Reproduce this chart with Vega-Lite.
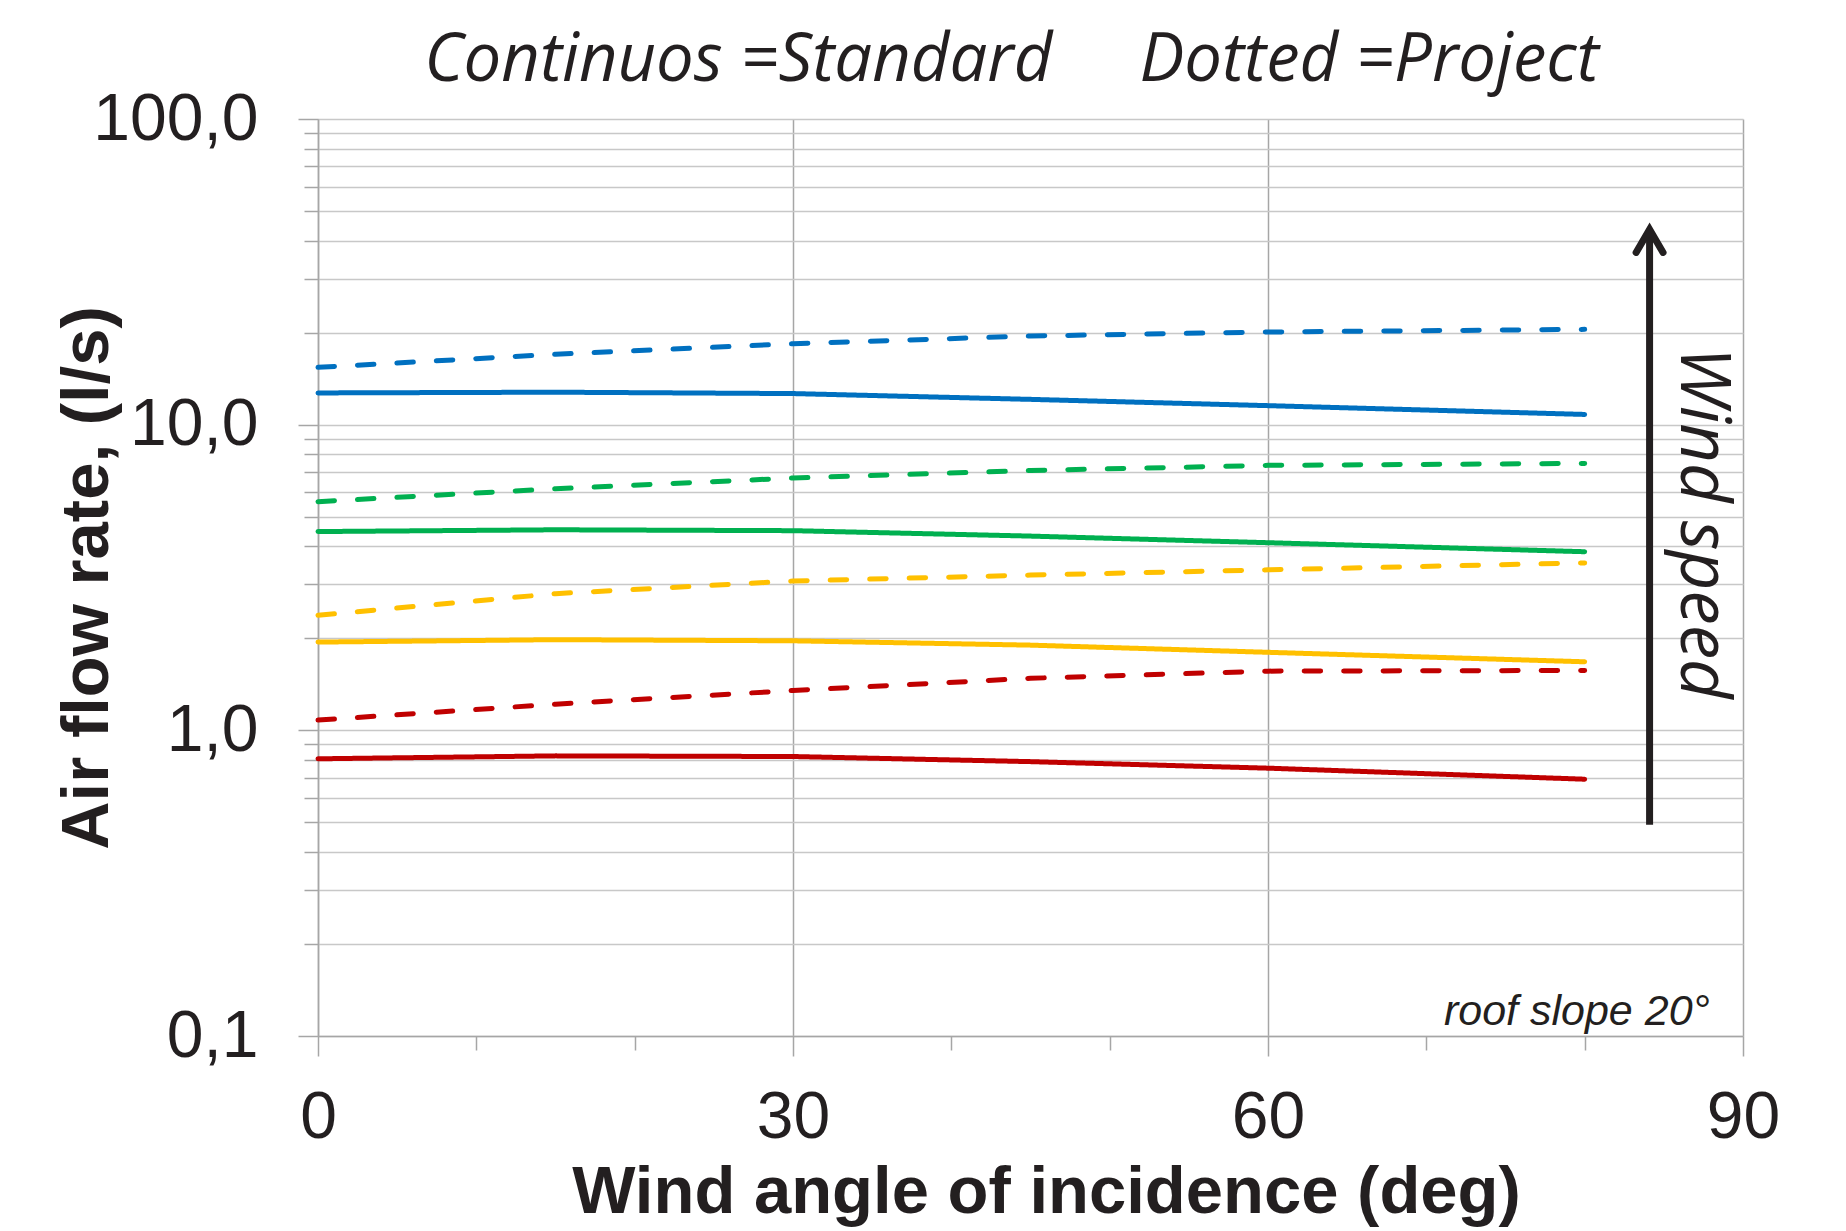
{
  "$schema": "https://vega.github.io/schema/vega-lite/v6.json",
  "width": 1425,
  "height": 917,
  "autosize": {"type": "none"},
  "padding": {"left": 318, "top": 119, "right": 103, "bottom": 195},
  "background": "white",
  "config": {"view": {"stroke": null}},
  "title": {
    "text": "Continuos =Standard\u00a0\u00a0\u00a0\u00a0\u00a0Dotted =Project",
    "font": "Open Sans",
    "fontSize": 67,
    "fontStyle": "italic",
    "fontWeight": "normal",
    "color": "#231f20",
    "anchor": "middle",
    "frame": "group",
    "dx": -19,
    "dy": 66,
    "baseline": "alphabetic",
    "offset": 4
  },
  "datasets": {
    "flows": [
      {"angle": 0, "flow": 12.7, "speed": "v4", "type": "Standard"},
      {"angle": 15, "flow": 12.77, "speed": "v4", "type": "Standard"},
      {"angle": 30, "flow": 12.64, "speed": "v4", "type": "Standard"},
      {"angle": 45, "flow": 12.1, "speed": "v4", "type": "Standard"},
      {"angle": 60, "flow": 11.54, "speed": "v4", "type": "Standard"},
      {"angle": 80, "flow": 10.8, "speed": "v4", "type": "Standard"},
      {"angle": 0, "flow": 15.4, "speed": "v4", "type": "Project"},
      {"angle": 15, "flow": 17.0, "speed": "v4", "type": "Project"},
      {"angle": 30, "flow": 18.4, "speed": "v4", "type": "Project"},
      {"angle": 45, "flow": 19.5, "speed": "v4", "type": "Project"},
      {"angle": 60, "flow": 20.1, "speed": "v4", "type": "Project"},
      {"angle": 80, "flow": 20.5, "speed": "v4", "type": "Project"},
      {"angle": 0, "flow": 4.47, "speed": "v3", "type": "Standard"},
      {"angle": 15, "flow": 4.53, "speed": "v3", "type": "Standard"},
      {"angle": 30, "flow": 4.5, "speed": "v3", "type": "Standard"},
      {"angle": 45, "flow": 4.32, "speed": "v3", "type": "Standard"},
      {"angle": 60, "flow": 4.11, "speed": "v3", "type": "Standard"},
      {"angle": 80, "flow": 3.84, "speed": "v3", "type": "Standard"},
      {"angle": 0, "flow": 5.6, "speed": "v3", "type": "Project"},
      {"angle": 15, "flow": 6.17, "speed": "v3", "type": "Project"},
      {"angle": 30, "flow": 6.69, "speed": "v3", "type": "Project"},
      {"angle": 45, "flow": 7.08, "speed": "v3", "type": "Project"},
      {"angle": 60, "flow": 7.36, "speed": "v3", "type": "Project"},
      {"angle": 80, "flow": 7.47, "speed": "v3", "type": "Project"},
      {"angle": 0, "flow": 1.944, "speed": "v2", "type": "Standard"},
      {"angle": 15, "flow": 1.98, "speed": "v2", "type": "Standard"},
      {"angle": 30, "flow": 1.963, "speed": "v2", "type": "Standard"},
      {"angle": 45, "flow": 1.9, "speed": "v2", "type": "Standard"},
      {"angle": 60, "flow": 1.8, "speed": "v2", "type": "Standard"},
      {"angle": 80, "flow": 1.676, "speed": "v2", "type": "Standard"},
      {"angle": 0, "flow": 2.38, "speed": "v2", "type": "Project"},
      {"angle": 15, "flow": 2.8, "speed": "v2", "type": "Project"},
      {"angle": 30, "flow": 3.08, "speed": "v2", "type": "Project"},
      {"angle": 45, "flow": 3.22, "speed": "v2", "type": "Project"},
      {"angle": 60, "flow": 3.35, "speed": "v2", "type": "Project"},
      {"angle": 80, "flow": 3.53, "speed": "v2", "type": "Project"},
      {"angle": 0, "flow": 0.807, "speed": "v1", "type": "Standard"},
      {"angle": 15, "flow": 0.825, "speed": "v1", "type": "Standard"},
      {"angle": 30, "flow": 0.821, "speed": "v1", "type": "Standard"},
      {"angle": 45, "flow": 0.79, "speed": "v1", "type": "Standard"},
      {"angle": 60, "flow": 0.752, "speed": "v1", "type": "Standard"},
      {"angle": 80, "flow": 0.692, "speed": "v1", "type": "Standard"},
      {"angle": 0, "flow": 1.08, "speed": "v1", "type": "Project"},
      {"angle": 15, "flow": 1.218, "speed": "v1", "type": "Project"},
      {"angle": 30, "flow": 1.35, "speed": "v1", "type": "Project"},
      {"angle": 45, "flow": 1.48, "speed": "v1", "type": "Project"},
      {"angle": 60, "flow": 1.562, "speed": "v1", "type": "Project"},
      {"angle": 80, "flow": 1.57, "speed": "v1", "type": "Project"}
    ],
    "arrow": [{"angle": 84.1, "flow": 0.491, "flow2": 43.5}],
    "head": [
      {"angle": 83.25, "flow": 36.6, "o": 0},
      {"angle": 84.1, "flow": 43.5, "o": 1},
      {"angle": 84.95, "flow": 36.6, "o": 2}
    ],
    "roof": [{"angle": 87.9, "flow": 0.1086, "label": "roof slope 20°"}],
    "wind": [{"angle": 86.1, "flow": 4.77, "label": "Wind speed"}]
  },
  "layer": [
    {
      "data": {"name": "flows"},
      "mark": {"type": "line", "strokeWidth": 5, "strokeCap": "round", "strokeJoin": "round"},
      "encoding": {
        "x": {
          "field": "angle",
          "type": "quantitative",
          "scale": {"domain": [0, 90], "nice": false, "zero": false},
          "axis": {
            "values": [0, 10, 20, 30, 40, 50, 60, 70, 80, 90],
            "labelExpr": "datum.value % 30 == 0 ? datum.label : ''",
            "grid": true,
            "gridColor": "#a6a6a6",
            "gridWidth": 1.5,
            "gridOpacity": {"condition": {"test": "datum.value % 30 == 0", "value": 1}, "value": 0},
            "tickSize": {"condition": {"test": "datum.value % 30 == 0", "value": 20}, "value": 14},
            "tickColor": "#a6a6a6",
            "tickWidth": 1.5,
            "domainColor": "#a6a6a6",
            "domainWidth": 1.5,
            "labelFont": "Liberation Sans",
            "labelFontSize": 66,
            "labelColor": "#231f20",
            "labelPadding": 29,
            "labelFlush": false,
            "labelOverlap": false,
            "labelBound": false,
            "title": "Wind angle of incidence (deg)",
            "titleFont": "Liberation Sans",
            "titleFontSize": 67,
            "titleFontWeight": "bold",
            "titleColor": "#231f20",
            "titleX": 728,
            "titleY": 176,
            "titleAlign": "center",
            "titleBaseline": "alphabetic"
          }
        },
        "y": {
          "field": "flow",
          "type": "quantitative",
          "scale": {"type": "log", "domain": [0.1, 100], "nice": false},
          "axis": {
            "values": [0.1, 0.2, 0.3, 0.4, 0.5, 0.6, 0.7, 0.8, 0.9, 1, 2, 3, 4, 5, 6, 7, 8, 9, 10, 20, 30, 40, 50, 60, 70, 80, 90, 100],
            "labelExpr": "datum.value == 100 ? '100,0' : datum.value == 10 ? '10,0' : datum.value == 1 ? '1,0' : datum.value == 0.1 ? '0,1' : ''",
            "grid": true,
            "gridColor": "#c8c8c8",
            "gridWidth": 1.5,
            "tickSize": {"condition": {"test": "indexof([0.1, 1, 10, 100], datum.value) >= 0", "value": 20}, "value": 14},
            "tickColor": "#a6a6a6",
            "tickWidth": 1.5,
            "domainColor": "#a6a6a6",
            "domainWidth": 1.5,
            "labelFont": "Liberation Sans",
            "labelFontSize": 66,
            "labelColor": "#231f20",
            "labelPadding": 40,
            "labelFlush": false,
            "labelOverlap": false,
            "labelBound": false,
            "title": "Air flow rate, (l/s)",
            "titleFont": "Liberation Sans",
            "titleFontSize": 67,
            "titleFontWeight": "bold",
            "titleColor": "#231f20",
            "titleX": -211,
            "titleBaseline": "alphabetic"
          }
        },
        "color": {
          "field": "speed",
          "type": "nominal",
          "scale": {"domain": ["v1", "v2", "v3", "v4"], "range": ["#C00000", "#FFC000", "#00B050", "#0070C0"]},
          "legend": null
        },
        "strokeDash": {
          "field": "type",
          "type": "nominal",
          "scale": {"domain": ["Standard", "Project"], "range": [[1, 0], [16.5, 23]]},
          "legend": null
        }
      }
    },
    {
      "data": {"name": "arrow"},
      "mark": {"type": "rule", "color": "#231f20", "strokeWidth": 7, "strokeCap": "butt"},
      "encoding": {
        "x": {"field": "angle", "type": "quantitative"},
        "y": {"field": "flow", "type": "quantitative"},
        "y2": {"field": "flow2"}
      }
    },
    {
      "data": {"name": "head"},
      "mark": {"type": "line", "color": "#231f20", "strokeWidth": 7, "strokeCap": "round", "strokeJoin": "miter"},
      "encoding": {
        "x": {"field": "angle", "type": "quantitative"},
        "y": {"field": "flow", "type": "quantitative"},
        "order": {"field": "o", "type": "quantitative"}
      }
    },
    {
      "data": {"name": "roof"},
      "mark": {"type": "text", "font": "Liberation Sans", "fontSize": 43, "fontStyle": "italic", "color": "#231f20", "align": "right", "baseline": "alphabetic"},
      "encoding": {
        "x": {"field": "angle", "type": "quantitative"},
        "y": {"field": "flow", "type": "quantitative"},
        "text": {"field": "label"}
      }
    },
    {
      "data": {"name": "wind"},
      "mark": {"type": "text", "font": "Open Sans", "fontSize": 69, "fontStyle": "italic", "color": "#231f20", "align": "center", "baseline": "alphabetic", "angle": 90},
      "encoding": {
        "x": {"field": "angle", "type": "quantitative"},
        "y": {"field": "flow", "type": "quantitative"},
        "text": {"field": "label"}
      }
    }
  ]
}
